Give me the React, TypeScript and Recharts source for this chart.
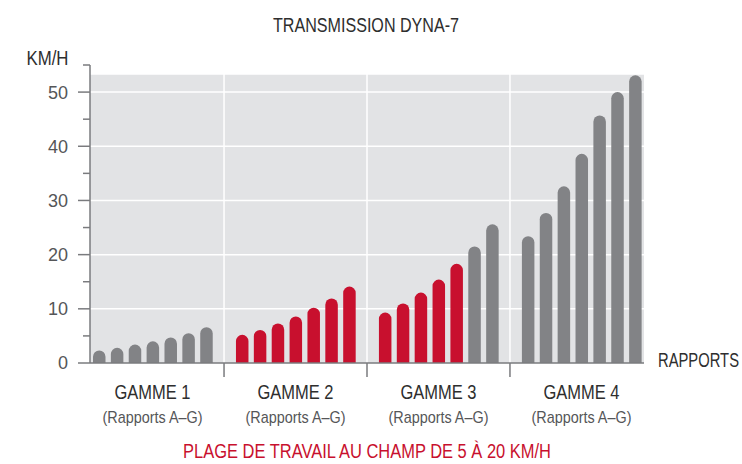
import { BarChart, Bar, XAxis, YAxis, ReferenceArea, ReferenceLine, Cell } from 'recharts'

const GAMMES = ['GAMME 1', 'GAMME 2', 'GAMME 3', 'GAMME 4']
const RAPPORTS = ['A', 'B', 'C', 'D', 'E', 'F', 'G']
const SOUS_TITRE = '(Rapports A–G)'

// vitesse (km/h) par rapport, pour chaque gamme
const GAMME_1 = [2.3, 2.8, 3.4, 4.0, 4.7, 5.5, 6.6]
const GAMME_2 = [5.2, 6.1, 7.3, 8.6, 10.2, 11.9, 14.1]
const GAMME_3 = [9.3, 11.0, 13.0, 15.4, 18.3, 21.5, 25.6]
const GAMME_4 = [23.4, 27.7, 32.6, 38.6, 45.7, 50.0, 53.1]

// rapports dans la plage de travail au champ (en rouge)
const CHAMP_1 = [false, false, false, false, false, false, false]
const CHAMP_2 = [true, true, true, true, true, true, true]
const CHAMP_3 = [true, true, true, true, true, false, false]
const CHAMP_4 = [false, false, false, false, false, false, false]

const Y_TICKS = [0, 5, 10, 15, 20, 25, 30, 35, 40, 45, 50, 55]
const GRID_Y = [10, 20, 30, 40, 50]
const Y_MAX = 55
const FOND_MAX = 53.2

const GRIS = '#828386'
const ROUGE = '#c8102e'
const FOND = '#e2e3e5'
const AXE = '#7a7b7e'
const TEXTE = '#2e2e2e'
const TEXTE_CLAIR = '#555658'
const FONT = '"Liberation Sans", Arial, sans-serif'

const series = [GAMME_1, GAMME_2, GAMME_3, GAMME_4]
const champ = [CHAMP_1, CHAMP_2, CHAMP_3, CHAMP_4]

type Row = { key: string; speed?: number; champ?: boolean }

const data: Row[] = []
series.forEach((vals, g) => {
  vals.forEach((v, i) => {
    data.push({ key: `${g + 1}${RAPPORTS[i]}`, speed: v, champ: champ[g][i] })
  })
  if (g < series.length - 1) data.push({ key: `gap${g + 1}` })
})
const gaps = data.filter((d) => d.key.startsWith('gap')).map((d) => d.key)

// texte condensé (police étroite non disponible)
function Narrow({ w, children, ...rest }: any) {
  return (
    <text textLength={w} lengthAdjust="spacingAndGlyphs" {...rest}>
      {children}
    </text>
  )
}

function GammeTick(props: any) {
  const { x, y, payload } = props
  const v: string = String(payload.value)
  if (v.startsWith('gap')) {
    return <line x1={x} y1={y} x2={x} y2={y + 14} stroke={AXE} strokeWidth={1.5} />
  }
  if (v.endsWith('D')) {
    const g = Number(v[0]) - 1
    return (
      <g fontFamily={FONT}>
        <Narrow w={76} x={x - 38} y={y + 36} fontSize={20} fill={TEXTE}>
          {GAMMES[g]}
        </Narrow>
        <Narrow w={100} x={x - 50} y={y + 60} fontSize={17} fill={TEXTE_CLAIR}>
          {SOUS_TITRE}
        </Narrow>
      </g>
    )
  }
  return <g />
}

function KmhTick(props: any) {
  const { x, y, payload } = props
  const v = Number(payload.value)
  const major = v % 10 === 0
  return (
    <g>
      <line x1={x - (major ? 12 : 7)} y1={y} x2={x} y2={y} stroke={AXE} strokeWidth={1.5} />
      {major && (
        <text x={x - 22} y={y} dy="0.36em" textAnchor="end" fontSize={18} fontFamily={FONT} fill={TEXTE_CLAIR}>
          {v}
        </text>
      )}
    </g>
  )
}

export default function App() {
  return (
    <div style={{ position: 'absolute', left: 0, top: 0, width: 742, height: 464, background: '#fff' }}>
      <BarChart
        width={742}
        height={464}
        data={data}
        margin={{ top: 65, right: 98, bottom: 0, left: 0 }}
        barCategoryGap={0}
      >
        <ReferenceArea y1={0} y2={FOND_MAX} fill={FOND} fillOpacity={1} stroke="none" zIndex={50} />
        {GRID_Y.map((v) => (
          <ReferenceLine key={v} y={v} stroke="#ffffff" strokeWidth={1.5} zIndex={60} />
        ))}
        {gaps.map((k) => (
          <ReferenceLine key={k} x={k} stroke="#ffffff" strokeWidth={1.5} zIndex={60} />
        ))}
        <XAxis
          dataKey="key"
          interval={0}
          height={101}
          tickLine={false}
          tickSize={0}
          tickMargin={0}
          axisLine={{ stroke: AXE, strokeWidth: 1.5 }}
          tick={<GammeTick />}
        />
        <YAxis
          type="number"
          domain={[0, Y_MAX]}
          ticks={Y_TICKS}
          interval={0}
          width={90}
          tickLine={false}
          tickSize={0}
          tickMargin={0}
          axisLine={{ stroke: AXE, strokeWidth: 1.5 }}
          tick={<KmhTick />}
        />
        <Bar dataKey="speed" barSize={12.5} radius={[6.25, 6.25, 0, 0]} isAnimationActive={false}>
          {data.map((d) => (
            <Cell key={d.key} fill={d.champ ? ROUGE : GRIS} />
          ))}
        </Bar>
      </BarChart>
      <svg
        width={742}
        height={464}
        style={{ position: 'absolute', left: 0, top: 0, pointerEvents: 'none' }}
        fontFamily={FONT}
      >
        <Narrow w={186} x={273} y={31.5} fontSize={20} fill={TEXTE}>
          TRANSMISSION DYNA-7
        </Narrow>
        <Narrow w={42} x={26.5} y={65} fontSize={20} fill={TEXTE}>
          KM/H
        </Narrow>
        <Narrow w={81} x={739} y={367} textAnchor="end" fontSize={20} fill={TEXTE}>
          RAPPORTS
        </Narrow>
        <Narrow w={368} x={183} y={458} fontSize={20} fill={ROUGE}>
          PLAGE DE TRAVAIL AU CHAMP DE 5 À 20 KM/H
        </Narrow>
      </svg>
    </div>
  )
}
